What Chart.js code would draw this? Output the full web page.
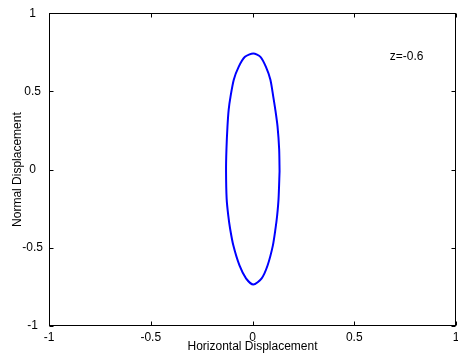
<!DOCTYPE html>
<html lang="en">
<head>
<meta charset="UTF-8">
<title>Horizontal vs Normal Displacement</title>
<script src="https://cdn.jsdelivr.net/npm/chart.js"></script>
<style>
  html, body { margin: 0; padding: 0; background: #fff; }
  #plot { display: block; }
</style>
</head>
<body>
<canvas id="plot" width="458" height="362"></canvas>
<script>
// displacement path (starts on the right side, goes round and closes)
const horiz = [0.133, 0.128, 0.121, 0.113, 0.100, 0.074, 0.045, 0.004,
               -0.032, -0.064, -0.094, -0.110, -0.119, -0.127, -0.130,
               -0.128, -0.123, -0.117, -0.108, -0.092, -0.068, -0.037, 0.004,
               0.039, 0.066, 0.088, 0.102, 0.112, 0.123, 0.131, 0.133];
const normal = [-0.010, -0.187, -0.295, -0.378, -0.486, -0.613, -0.695, -0.735,
                -0.695, -0.613, -0.486, -0.378, -0.295, -0.187, -0.010,
                0.130, 0.276, 0.384, 0.467, 0.575, 0.657, 0.721, 0.742,
                0.721, 0.657, 0.575, 0.467, 0.384, 0.276, 0.130, -0.010];
const xTicks = [-1, -0.5, 0, 0.5, 1];
const yTicks = [-1, -0.5, 0, 0.5, 1];
const noteText = 'z=-0.6';
const noteAt = { x: 0.675, y: 0.72 };

Chart.defaults.font.family = "'Liberation Sans', Arial, sans-serif";
Chart.defaults.font.size = 12;
Chart.defaults.color = '#000';

const points = horiz.map((x, i) => ({ x: x, y: normal[i] }));

// matlab style box with inward ticks + the z label
const boxPlugin = {
    id: 'box',
    afterDraw(chart) {
        const c = chart.ctx;
        const a = chart.chartArea;
        const sx = chart.scales.x, sy = chart.scales.y;
        const L = Math.round(a.left) + 0.5, R = Math.round(a.right) - 0.5;
        const T = Math.round(a.top) + 0.5, B = Math.round(a.bottom) - 0.5;
        c.save();
        c.strokeStyle = '#000';
        c.lineWidth = 1;
        c.strokeRect(L, T, R - L, B - T);
        c.beginPath();
        xTicks.forEach(v => {
            const px = Math.round(sx.getPixelForValue(v)) + 0.5;
            c.moveTo(px, B); c.lineTo(px, B - 4);
            c.moveTo(px, T); c.lineTo(px, T + 4);
        });
        yTicks.forEach(v => {
            const py = Math.round(sy.getPixelForValue(v)) + 0.5;
            c.moveTo(L, py); c.lineTo(L + 4, py);
            c.moveTo(R, py); c.lineTo(R - 4, py);
        });
        c.stroke();
        c.fillStyle = '#000';
        c.font = "12px 'Liberation Sans', Arial, sans-serif";
        c.textAlign = 'left';
        c.textBaseline = 'middle';
        c.fillText(noteText, sx.getPixelForValue(noteAt.x), sy.getPixelForValue(noteAt.y));
        c.restore();
    }
};

new Chart(document.getElementById('plot'), {
    type: 'scatter',
    data: {
        datasets: [{
            data: points,
            showLine: true,
            borderColor: '#0000ff',
            borderWidth: 2,
            pointRadius: 0,
            tension: 0.25,
            fill: false
        }]
    },
    options: {
        responsive: false,
        animation: false,
        devicePixelRatio: 1,
        layout: { padding: { top: 11, right: 2, left: 0, bottom: 0 } },
        plugins: { legend: { display: false }, tooltip: { enabled: false } },
        scales: {
            x: {
                type: 'linear',
                position: 'bottom',
                min: -1, max: 1,
                grid: { display: false, drawTicks: false },
                border: { display: false },
                ticks: { padding: 4, maxRotation: 0, autoSkip: false, callback: v => String(v) },
                title: { display: true, text: 'Horizontal Displacement', padding: { top: 0, bottom: 8 } },
                afterBuildTicks: s => { s.ticks = xTicks.map(v => ({ value: v })); },
                afterFit: s => { s.height = 36; s.paddingLeft = 0; s.paddingRight = 0; }
            },
            y: {
                type: 'linear',
                position: 'left',
                min: -1, max: 1,
                grid: { display: false, drawTicks: false },
                border: { display: false },
                ticks: { padding: 6, crossAlign: 'center', autoSkip: false, callback: v => String(v) },
                title: { display: true, text: 'Normal Displacement', padding: { top: 10, bottom: 0 } },
                afterBuildTicks: s => { s.ticks = yTicks.map(v => ({ value: v })); },
                afterFit: s => { s.width = 49; }
            }
        }
    },
    plugins: [boxPlugin]
});
</script>
</body>
</html>
